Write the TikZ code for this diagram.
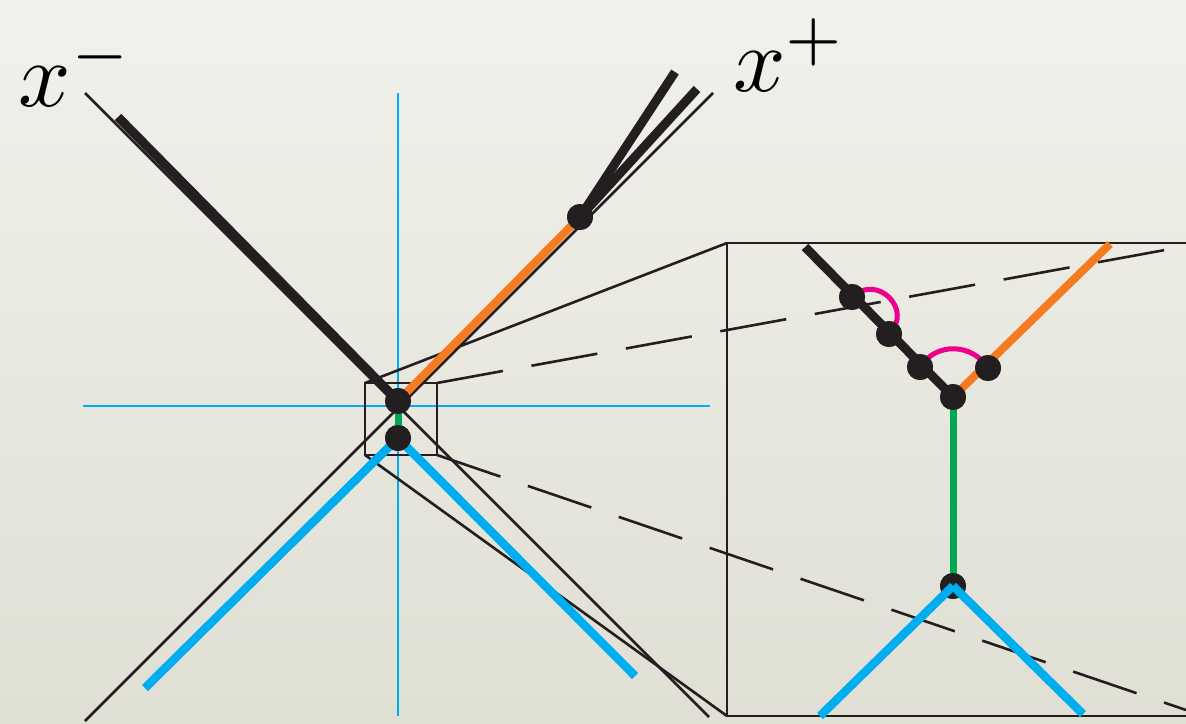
\documentclass[tikz,border=0pt]{standalone}
\usetikzlibrary{positioning}
\definecolor{ink}{HTML}{231F20}
\definecolor{cone}{HTML}{00AEEF}
\definecolor{quark}{HTML}{F47B20}
\definecolor{gluon}{HTML}{00A651}
\definecolor{loopc}{HTML}{EC008C}
\definecolor{bgtop}{HTML}{F1F1EC}
\definecolor{bgbot}{HTML}{E0DFD4}
\newcommand{\biglab}[1]{\scalebox{9.2}{$#1$}}

\begin{document}
\begin{tikzpicture}[x=1pt, y=-1pt,
      dot/.style={circle, fill=ink, inner sep=0pt, minimum size=26pt},
      axis/.style={cone, line width=2.6pt},
      thin/.style={ink, line width=2.6pt},
      proj/.style={ink, line width=2.6pt, dash pattern=on 67pt off 29pt},
      heavy/.style={ink, line width=9pt},
      orangeline/.style={quark, line width=8pt},
      blueline/.style={cone, line width=8.5pt},
      greenline/.style={gluon, line width=7pt},
      arcmark/.style={loopc, line width=5pt},
      lab/.style={inner sep=0pt}]
    \useasboundingbox (0,0) rectangle (1186,723);
    \clip (0,0) rectangle (1186,723);
    \shade[top color=bgtop, bottom color=bgbot] (0,0) rectangle (1186,723);

    % axes
    \coordinate (hl) at (83,406);
    \coordinate (hr) at (710,406);
    \coordinate (vt) at (398,93);
    \coordinate (vb) at (398,716);
    \draw[axis] (hl) -- (hr);
    \draw[axis] (vt) -- (vb);
    \coordinate (mtop) at (85,93);
    \coordinate (mbot) at (709,717);
    \coordinate (ptop) at (713,93);
    \coordinate (pbot) at (85,721);
    \draw[thin] (mtop) -- (mbot);
    \draw[thin] (ptop) -- (pbot);
    \node[lab] (xminus) at (76,70) {\biglab{x^-}};
    \node[lab] (xplus) at (790,55) {\biglab{x^+}};

    % zoom frustum
    \coordinate (sa) at (365,383);
    \coordinate (sb) at (437,383);
    \coordinate (sc) at (437,455);
    \coordinate (sd) at (365,455);
    \coordinate (ba) at (727,243);
    \coordinate (bd) at (727,716);
    \coordinate (bb) at (1165,250);
    \coordinate (bc) at (1186,710);
    \draw[thin] (sa) rectangle (sc);
    \draw[thin] (1200,243) -- (ba) -- (bd) -- (1200,716);
    \draw[thin] (sa) -- (ba);
    \draw[thin] (sd) -- (bd);
    \draw[proj] (sb) -- (bb);
    \draw[proj] (sc) -- (bc);

    % main vertex
    \node[dot] (v1) at (398,401) {};
    \node[dot] (v2) at (398,438) {};
    \node[dot] (v3) at (580,217) {};
    \coordinate (jl) at (118,117);
    \coordinate (ja) at (675,72);
    \coordinate (jb) at (697,89);
    \coordinate (bl) at (145,688);
    \coordinate (br) at (635,676);
    \draw[blueline] (v2.center) -- (bl);
    \draw[blueline] (v2.center) -- (br);
    \draw[greenline] (v1.center) -- (v2.center);
    \draw[orangeline] (v1.center) -- (v3.center);
    \draw[heavy] (jl) -- (v1.center);
    \draw[heavy] (v3.center) -- (ja);
    \draw[heavy] (v3.center) -- (jb);
    \node[dot] at (v1) {};
    \node[dot] at (v2) {};
    \node[dot] at (v3) {};

    % inset
    \coordinate (il) at (805,247);
    \coordinate (ir) at (1110,244);
    \coordinate (ibl) at (820,716);
    \coordinate (ibr) at (1083,714);
    \node[dot] (w1) at (852,297) {};
    \node[dot] (w2) at (889,334) {};
    \node[dot] (w3) at (920,367) {};
    \node[dot] (w4) at (953,397) {};
    \node[dot] (w5) at (988,368) {};
    \node[dot] (w6) at (953,586) {};
    \draw[heavy] (il) -- (w4.center);
    \draw[orangeline] (w4.center) -- (ir);
    \draw[greenline] (w4.center) -- (w6.center);
    \draw[arcmark] (w1.center) .. controls +(25,-24) and +(25,-24) .. (w2.center);
    \draw[arcmark] (w3.center) .. controls +(16,-25) and +(-16,-25) .. (w5.center);
    \foreach \w in {w1,w2,w3,w4,w5,w6}
      \node[dot] at (\w) {};
    \draw[blueline] (w6.center) -- (ibl);
    \draw[blueline] (w6.center) -- (ibr);
  \end{tikzpicture}
\end{document}
